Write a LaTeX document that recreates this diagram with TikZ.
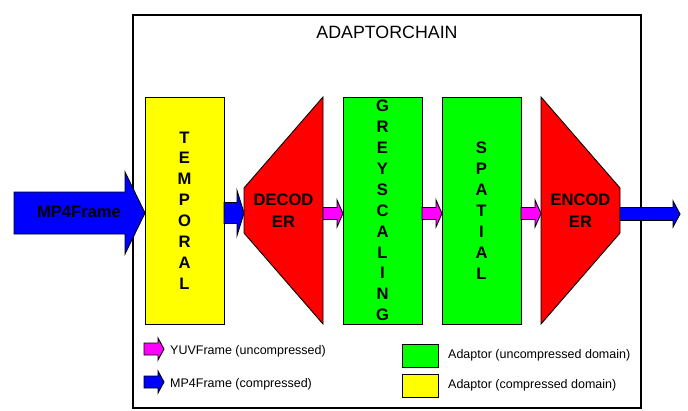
\documentclass[tikz,border=0pt]{standalone}
\usepackage{fontspec}
\setmainfont{Liberation Sans}
\usepackage{tikz}
\usetikzlibrary{calc, positioning}
\definecolor{compYellow}{RGB}{255, 255, 0}
\definecolor{uncompGreen}{RGB}{0, 255, 0}
\definecolor{codecRed}{RGB}{255, 0, 0}
\definecolor{yuvMagenta}{RGB}{255, 0, 255}
\definecolor{mp4Blue}{RGB}{0, 0, 255}

% block arrow: colour, from, to, body half width, head half width, head length
\newcommand{\flowarrow}[6]{%
  \draw[arrowbox, fill=#1] let \p1=(#2), \p2=(#3) in
    (\x1,\y1+#4) -- (\x2-#6,\y1+#4) -- (\x2-#6,\y1+#5) -- (\x2,\y1)
    -- (\x2-#6,\y1-#5) -- (\x2-#6,\y1-#4) -- (\x1,\y1-#4) -- cycle;}

\begin{document}
\begin{tikzpicture}[x=1pt, y=-1pt,
  adaptor/.style={draw, line width=0.9pt, minimum width=79pt, minimum height=227pt,
    inner sep=0pt, outer sep=0pt, align=center, font=\bfseries\fontsize{16.6}{20.9}\selectfont},
  codec/.style={minimum width=79pt, minimum height=227pt, inner sep=0pt, outer sep=0pt},
  codecbody/.style={draw, line width=0.9pt, fill=codecRed},
  codectext/.style={align=center, font=\bfseries\fontsize{16.6}{22}\selectfont},
  arrowbox/.style={draw, line width=0.9pt},
  legendtext/.style={anchor=west, inner sep=0pt, font=\fontsize{12.5}{15}\selectfont},
  swatch/.style={draw, line width=0.9pt, minimum width=36pt, minimum height=23pt, inner sep=0pt}]
  \useasboundingbox (0,0) rectangle (688,410);

  % Chain frame
  \draw[line width=1.2pt] (133,15) rectangle (641,408);
  \node[font=\fontsize{17.8}{20}\selectfont] (title) at (387,32) {ADAPTORCHAIN};

  % Adaptors
  \node[adaptor, fill=compYellow] (temporal) at (184.5,210.5) {T\\E\\M\\P\\O\\R\\A\\L};
  \node[codec, right=20pt of temporal] (decoder) {};
  \node[adaptor, fill=uncompGreen, right=20pt of decoder] (grey) {G\\R\\E\\Y\\S\\C\\A\\L\\I\\N\\G};
  \node[adaptor, fill=uncompGreen, right=20pt of grey] (spatial) {S\\P\\A\\T\\I\\A\\L};
  \node[codec, right=20pt of spatial] (encoder) {};

  % Codec bodies
  \draw[codecbody] ($(decoder.west)+(0,-22.5)$) -- (decoder.north east)
    -- (decoder.south east) -- ($(decoder.west)+(0,22.5)$) -- cycle;
  \node[codectext] (decoder text) at (decoder) {DECOD\\ER};
  \draw[codecbody] (encoder.north west) -- ($(encoder.east)+(0,-22.5)$)
    -- ($(encoder.east)+(0,22.5)$) -- (encoder.south west) -- cycle;
  \node[codectext] (encoder text) at (encoder) {ENCOD\\ER};

  % Frame flow
  \coordinate (source) at (14,213);
  \coordinate (sink) at (680,214);
  \flowarrow{mp4Blue}{source}{temporal.west}{21pt}{41pt}{20pt}
  \node[font=\bfseries\fontsize{16.6}{20}\selectfont] (source label) at (79,212) {MP4Frame};
  \flowarrow{mp4Blue}{$(temporal.east)+(0,2.5)$}{decoder.west}{10.5pt}{22.5pt}{7pt}
  \flowarrow{yuvMagenta}{$(decoder.east)+(0,3)$}{grey.west}{6pt}{13.5pt}{6pt}
  \flowarrow{yuvMagenta}{$(grey.east)+(0,3)$}{spatial.west}{6pt}{13.5pt}{6pt}
  \flowarrow{yuvMagenta}{$(spatial.east)+(0,3)$}{encoder.west}{6pt}{13.5pt}{6pt}
  \flowarrow{mp4Blue}{$(encoder.east)+(0,3.5)$}{sink}{6.5pt}{13pt}{7pt}

  % Legend
  \coordinate (yuv key) at (144,349);
  \coordinate (yuv tip) at (164,349);
  \coordinate (mp4 key) at (144,382);
  \coordinate (mp4 tip) at (164,382);
  \flowarrow{yuvMagenta}{yuv key}{yuv tip}{6pt}{11pt}{6pt}
  \flowarrow{mp4Blue}{mp4 key}{mp4 tip}{6pt}{11pt}{6pt}
  \node[legendtext] (yuv text) at (170,351) {YUVFrame (uncompressed)};
  \node[legendtext] (mp4 text) at (170,384) {MP4Frame (compressed)};
  \node[swatch, fill=uncompGreen] (green key) at (420,355.5) {};
  \node[swatch, fill=compYellow] (yellow key) at (420,385.5) {};
  \node[legendtext] (green text) at (448,355.5) {Adaptor (uncompressed domain)};
  \node[legendtext] (yellow text) at (448,385.5) {Adaptor (compressed domain)};
\end{tikzpicture}
\end{document}
